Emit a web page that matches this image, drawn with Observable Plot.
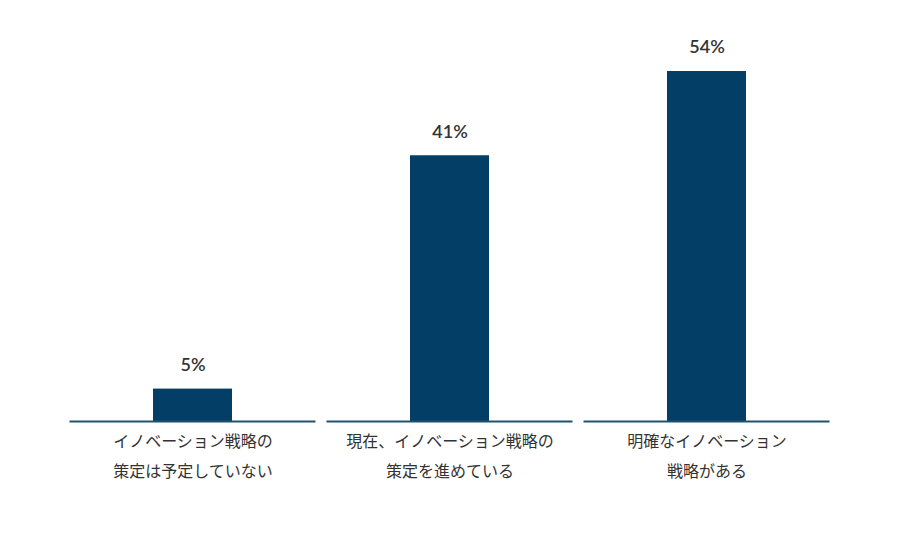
<!DOCTYPE html>
<html><head><meta charset="utf-8">
<script src="https://cdn.jsdelivr.net/npm/d3@7"></script>
<script src="https://cdn.jsdelivr.net/npm/@observablehq/plot@0.6"></script>
<style>
html,body{margin:0;padding:0;background:#fff;}
</style>
</head><body>
<div id="chart"></div>
<script>
const categories = ["イノベーション戦略の\n策定は予定していない", "現在、イノベーション戦略の\n策定を進めている", "明確なイノベーション\n戦略がある"];
const values = [5, 41, 54];
const valueLabels = ["5%", "41%", "54%"];

const data = categories.map((c, i) => ({cat: c, v: values[i], label: valueLabels[i]}));

const chart = Plot.plot({
  width: 900,
  height: 550,
  marginTop: 71,
  marginBottom: 129,
  marginLeft: 62.5,
  marginRight: 64,
  style: {fontFamily: "Lato, 'Noto Sans CJK JP', sans-serif", background: "#fff"},
  x: {domain: categories, padding: 0},
  y: {domain: [0, 54], axis: null},
  marks: [
    Plot.barY(data, {x: "cat", y: "v", fill: "#023e65", insetLeft: 89, insetRight: 89}),
    Plot.tickY(data, {x: "cat", y: 0, stroke: "#1f5170", strokeWidth: 2, insetLeft: 5.5, insetRight: 5.5}),
    Plot.text(data, {x: "cat", y: "v", text: "label", dy: -24, fontSize: 18, fontWeight: 600, fill: "#333", fontFamily: "Lato, sans-serif"}),
    Plot.axisX({tickSize: 0, tickPadding: 4, fontSize: 16, lineHeight: 1.875, fill: "#333", label: null, fontFamily: "'Noto Sans CJK JP', sans-serif"})
  ]
});
document.getElementById("chart").appendChild(chart);
</script>
</body></html>
